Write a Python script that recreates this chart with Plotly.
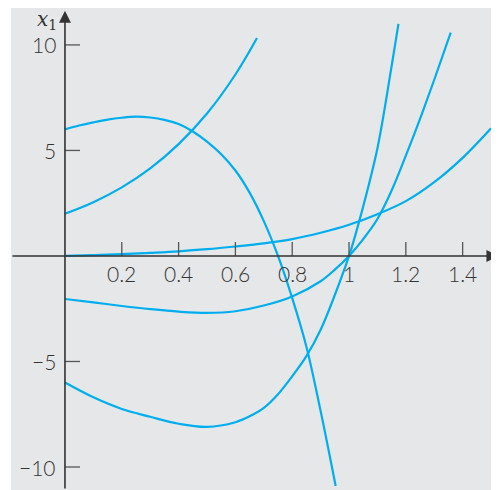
import plotly.graph_objects as go

# ---- data ----
tA = [0.0, 0.05, 0.1, 0.15, 0.2, 0.25, 0.3, 0.35, 0.4, 0.45, 0.5, 0.55, 0.6, 0.65, 0.7, 0.75, 0.8, 0.85, 0.9, 0.953]
yA = [6.0, 6.18, 6.33, 6.46, 6.55, 6.6, 6.56, 6.45, 6.25, 5.9, 5.42, 4.82, 4.05, 3.0, 1.65, 0.0, -2.0, -4.3, -7.35, -10.9]

tB = [0.0, 0.1, 0.2, 0.3, 0.4, 0.5, 0.6, 0.676]
yB = [2.0, 2.55, 3.25, 4.15, 5.3, 6.75, 8.6, 10.33]

tC = [0.0, 0.1, 0.2, 0.3, 0.4, 0.5, 0.6, 0.7, 0.8, 0.9, 1.0, 1.1, 1.2, 1.3, 1.4, 1.5]
yC = [0.0, 0.04, 0.09, 0.15, 0.22, 0.32, 0.45, 0.6, 0.8, 1.1, 1.48, 1.98, 2.6, 3.5, 4.65, 6.05]

tD = [0.0, 0.1, 0.2, 0.3, 0.4, 0.5, 0.6, 0.7, 0.8, 0.9, 0.95, 1.0, 1.05, 1.1, 1.15, 1.2, 1.25, 1.3, 1.358]
yD = [-2.04, -2.2, -2.37, -2.52, -2.64, -2.7, -2.62, -2.35, -1.92, -1.2, -0.65, 0.0, 0.8, 1.75, 3.1, 4.75, 6.5, 8.35, 10.58]

tE = [0.0, 0.1, 0.2, 0.3, 0.4, 0.5, 0.6, 0.65, 0.7, 0.75, 0.8, 0.85, 0.9, 0.95, 1.0, 1.05, 1.1, 1.15, 1.174]
yE = [-6.0, -6.7, -7.25, -7.62, -7.95, -8.1, -7.88, -7.6, -7.2, -6.55, -5.7, -4.75, -3.5, -1.85, 0.0, 2.35, 5.1, 9.0, 11.0]

x_ticks = [0.2, 0.4, 0.6, 0.8, 1.0, 1.2, 1.4]
x_tick_labels = ["0.2", "0.4", "0.6", "0.8", "1", "1.2", "1.4"]
y_ticks = [10, 5, -5, -10]
y_tick_labels = ["10", "5", "\u22125", "\u221210"]

XR = [-0.19, 1.528]
YR = [-11.09, 11.75]

CURVE = "#00aeef"
AXIS = "#333333"
LABEL_FONT = dict(family="Lato, Open Sans, sans-serif", size=21, color="#333333", weight=300)

fig = go.Figure()
for t, y in [(tA, yA), (tB, yB), (tC, yC), (tD, yD), (tE, yE)]:
    fig.add_trace(go.Scatter(x=t, y=y, mode="lines",
                             line=dict(color=CURVE, width=2.2, shape="spline", smoothing=1.0),
                             hoverinfo="skip", showlegend=False))

shapes = []
annotations = []
# axes with arrowheads
annotations.append(dict(x=0, y=11.62, ax=0, ay=YR[0], xref="x", yref="y", axref="x", ayref="y",
                        text="", showarrow=True, arrowhead=2, arrowsize=1.5, arrowwidth=1.6,
                        arrowcolor=AXIS))
annotations.append(dict(x=1.526, y=0, ax=XR[0], ay=0, xref="x", yref="y", axref="x", ayref="y",
                        text="", showarrow=True, arrowhead=2, arrowsize=1.5, arrowwidth=1.6,
                        arrowcolor=AXIS))
# ticks
for xt, lab in zip(x_ticks, x_tick_labels):
    shapes.append(dict(type="line", xref="x", yref="y", x0=xt, x1=xt, y0=0, y1=0.66,
                       line=dict(color="#555555", width=1.3)))
    annotations.append(dict(x=xt, y=0, xref="x", yref="y", text=lab, showarrow=False,
                            xanchor="center", yanchor="top", yshift=-3, font=LABEL_FONT))
for yt, lab in zip(y_ticks, y_tick_labels):
    shapes.append(dict(type="line", xref="x", yref="y", x0=0, x1=0.053, y0=yt, y1=yt,
                       line=dict(color="#555555", width=1.3)))
    annotations.append(dict(x=0, y=yt, xref="x", yref="y", text=lab, showarrow=False,
                            xanchor="right", yanchor="middle", xshift=-7, font=LABEL_FONT))
# axis titles
annotations.append(dict(x=0, y=11.2, xref="x", yref="y", text="<i>x</i><sub>1</sub>", showarrow=False,
                        xanchor="right", yanchor="middle", xshift=-6,
                        font=dict(family="DejaVu Serif, Liberation Serif, serif", size=20, color="#333333")))
annotations.append(dict(x=1.512, y=0, xref="x", yref="y", text="<i>t</i>", showarrow=False,
                        xanchor="center", yanchor="top", yshift=-2,
                        font=dict(family="DejaVu Serif, Liberation Serif, serif", size=22, color="#333333")))

# page body has an 8px default margin, so the figure is sized/offset to compensate
fig.update_layout(
    width=491, height=482,
    margin=dict(l=3, r=0, t=0, b=0),
    paper_bgcolor="white", plot_bgcolor="#e6e7e8",
    xaxis=dict(range=XR, visible=False, fixedrange=True),
    yaxis=dict(range=YR, visible=False, fixedrange=True),
    shapes=shapes, annotations=annotations,
)
fig.write_html("out.html")
